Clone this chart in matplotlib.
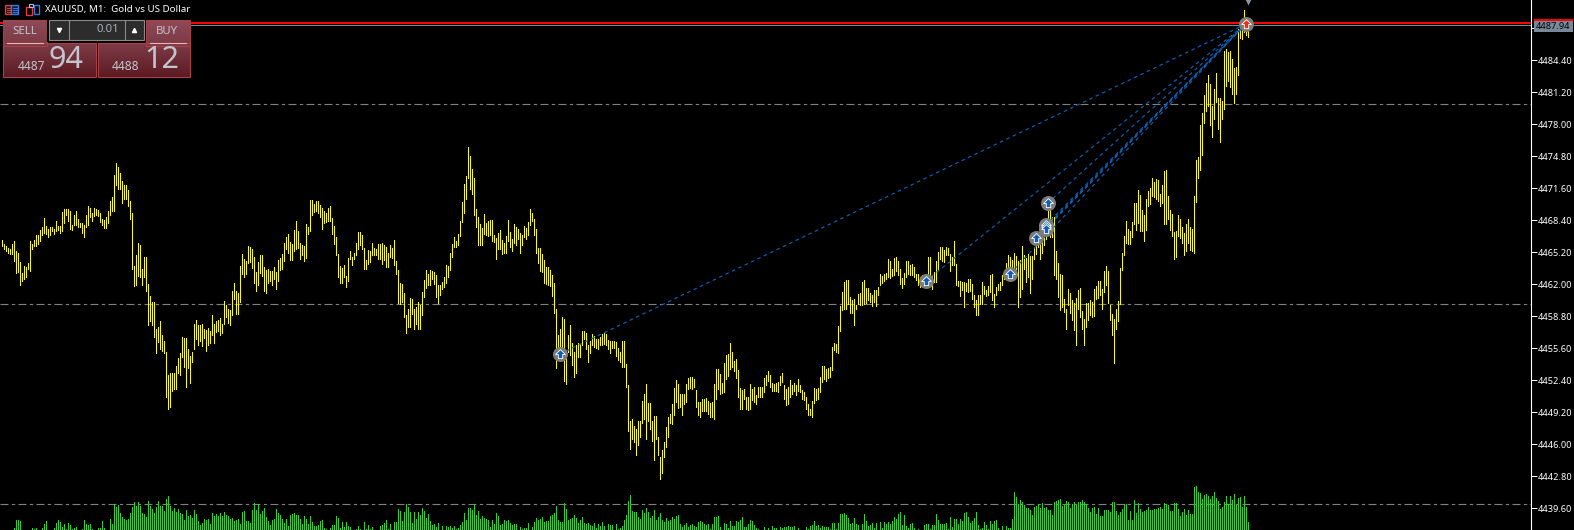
import numpy as np
import matplotlib
matplotlib.use('Agg')
import matplotlib.pyplot as plt
from matplotlib.path import Path
from matplotlib.patches import Rectangle

plt.rcParams['font.family'] = ['Noto Sans', 'DejaVu Sans']

# M1 bars
highs_a = [4466.4,4466.0,4465.8,4465.6,4465.5,4466.0,4466.3,4465.3,4465.1,4464.2,4463.1,4463.8,4463.7,4464.1,4466.3,4466.0,4466.4,4466.9,4466.9,4467.4,4467.7,4468.6,4467.8,4467.5,4467.7,4467.7,4467.5,4468.3,4467.8,4467.8,
    4469.2,4469.5,4469.5,4469.5,4469.3,4467.9,4468.9,4469.3,4468.5,4468.1,4468.1,4467.9,4468.9,4469.8,4469.6,4469.1,4469.6,4469.5,4469.4,4469.1,4468.5,4468.4,4468.7,4469.3,4470.3,4470.7,4472.9,4474.1,4473.7,4473.1,4472.3,4471.9,4471.9,4471.4,4470.3,4469.1,4463.8,4464.9,4466.1,4465.9,4463.5,4464.7,4464.7,4462.0,4460.8,4460.2,4460.2,4457.5,4457.7,4458.3,4456.9,4456.3,4455.2,4452.9,4453.1,4453.1,4453.1,4453.8,4454.6,4455.1,4456.7,4456.6,4456.6,4455.5,4454.8,4455.2,4458.0,4458.4,4457.9,4457.9,4458.0,4457.5,4457.4,4457.6,4457.3,4458.9,4458.0,4458.3,4458.4,4458.6,4458.0,4460.3,4459.9,4459.5,4459.4,4461.3,4462.1,4461.3,4461.1,4463.8,4465.0,4464.5,4464.3,4465.8,4465.7,4465.5,4464.7,4463.2,4464.2,4464.9,4464.9,4463.7,4463.4,4463.5,4463.3,4463.3,4463.7,4463.2,4464.4,4464.6,4465.0,4466.1,4466.7,4467.0,4466.2,4466.0,4467.4,4468.3,4467.3,4466.1,4465.9,4465.8,4468.0,4467.7,4470.4,4470.4,4470.0,4470.3,4470.3,4469.9,4469.6,4469.3,4469.1,4469.6,4469.8,4468.6,4467.8,4466.7,4465.0,4463.8,4463.6,4463.9,4462.8,4464.6,4465.3]
lows_a = [4465.8,4465.5,4465.3,4465.1,4465.0,4465.0,4464.3,4463.1,4463.2,4461.9,4462.3,4462.5,4462.7,4463.5,4463.3,4465.5,4465.8,4465.8,4466.0,4466.3,4466.9,4467.1,4467.0,4466.7,4466.9,4467.3,4467.0,4467.3,4467.4,4467.1,
    4467.3,4468.1,4468.9,4468.3,4467.5,4467.4,4467.9,4467.9,4467.7,4467.7,4467.1,4466.7,4467.7,4467.9,4468.7,4468.3,4468.8,4468.9,4468.8,4468.2,4467.9,4467.6,4467.6,4468.1,4468.9,4469.3,4469.3,4471.9,4471.5,4471.5,4470.1,4470.5,4470.5,4469.8,4468.5,4463.5,4461.8,4461.9,4462.8,4462.7,4461.9,4462.7,4461.3,4457.9,4458.3,4457.9,4456.7,4455.1,4456.2,4455.5,4455.3,4455.1,4450.7,4449.5,4449.7,4451.3,4451.5,4451.5,4453.1,4452.9,4454.7,4453.7,4451.7,4453.6,4452.1,4454.2,4455.5,4456.5,4455.9,4456.3,4455.8,4456.6,4455.3,4455.9,4456.1,4456.9,4456.1,4457.2,4457.3,4456.9,4457.1,4458.0,4458.7,4458.1,4457.9,4458.9,4460.5,4459.0,4459.0,4460.2,4463.0,4462.7,4463.0,4464.1,4464.2,4463.6,4462.1,4461.3,4461.9,4463.1,4462.8,4461.3,4461.1,4462.1,4462.3,4461.9,4462.5,4461.5,4462.3,4463.4,4463.5,4464.3,4465.5,4465.1,4464.4,4464.4,4465.3,4465.5,4465.6,4464.5,4464.9,4464.3,4464.6,4467.0,4467.3,4468.9,4469.2,4469.3,4469.1,4468.7,4467.5,4468.1,4468.2,4468.3,4468.3,4467.0,4466.0,4464.9,4462.7,4462.1,4462.1,4462.7,4461.7,4462.3,4464.5]

highs_b = [4464.7,4465.1,4466.1,4467.2,4467.2,4466.9,4465.6,4464.4,4465.4,4465.3,4466.1,4465.6,4465.5,4466.0,4466.0,4466.1,4465.9,4465.7,4465.1,4465.9,4465.6,4466.4,4464.3,4463.4,4462.1,4462.0,4461.1,4458.9,4459.5,4460.6,4460.5,4459.5,4459.7,4460.2,4459.9,4461.2,4462.4,4463.4,4463.0,4463.4,4463.3,4463.2,4462.9,4461.9,4461.9,4462.2,4462.7,4463.9,4463.8,4465.1,4466.0,4466.7,4466.3,4467.0,4468.3,4470.2,4472.0,4472.8,4475.7,4474.8,4473.5,4472.6,4469.5,4468.7,4468.0,4467.6,4469.0,4468.1,4468.3,4468.4,4468.4,4466.9,4466.6,4467.1,4467.4,4466.4,4466.1,4466.8,4468.4,4467.2,4466.5,4468.0,4467.7,4467.5,4467.1,4466.9,4467.8,4467.6,4468.2,4469.5,4469.1,4468.5,4467.5,4465.6,4465.6,4465.0,4464.4,4463.7,4463.7,4463.4,4462.9,4462.1,4459.5,4456.9,4457.5,4458.7,4458.5,4454.9,4456.9,4457.9,4456.1,4455.2,4455.9,4456.1,4456.0,4457.3,4457.3,4457.1,4455.9,4456.3,4457.0,4456.8,4456.5,4456.5,4456.7,4457.0,4457.1,4457.0,4456.4,4456.3,4456.3,4456.3,4456.2,4455.6,4455.2,4456.3,4456.3,4454.0,4451.9,4448.3,4448.5,4447.8,4447.5,4448.3,4448.3,4450.3,4451.0,4452.0,4450.1,4450.1,4448.3,4448.8,4448.8,4446.7,4444.7,4445.4,4446.2,4447.7,4448.7,4449.0,4450.0,4451.6,4452.4,4452.0,4451.0,4451.0,4451.0,4452.0,4452.6,4452.7,4452.7,4452.5,4451.4,4450.2,4450.2]
lows_b = [4463.9,4464.5,4464.9,4465.5,4465.9,4465.5,4463.5,4463.5,4464.0,4464.2,4464.9,4464.9,4464.9,4464.5,4464.5,4464.0,4464.4,4463.7,4463.7,4464.7,4464.6,4463.9,4463.0,4460.1,4460.0,4460.2,4458.7,4457.1,4457.7,4457.7,4459.0,4457.5,4458.0,4457.5,4457.5,4458.9,4460.7,4461.6,4461.9,4461.9,4462.5,4462.0,4460.7,4460.1,4460.9,4461.5,4461.7,4462.1,4462.7,4463.4,4464.7,4465.7,4465.7,4465.9,4466.8,4468.2,4469.1,4470.5,4472.6,4471.5,4471.0,4468.9,4467.7,4465.9,4465.9,4465.9,4467.0,4466.9,4466.8,4466.9,4466.3,4466.2,4464.5,4465.5,4465.5,4465.0,4465.1,4465.1,4466.3,4465.7,4465.3,4466.1,4465.9,4466.5,4465.1,4465.9,4466.7,4466.5,4466.9,4467.9,4468.3,4466.9,4465.1,4464.1,4463.3,4463.2,4462.1,4462.0,4461.9,4461.8,4460.8,4459.1,4453.6,4455.5,4455.5,4455.7,4452.3,4452.0,4455.2,4454.9,4453.9,4452.7,4453.1,4454.7,4454.7,4455.9,4456.5,4455.5,4454.2,4455.1,4455.9,4455.7,4455.6,4455.5,4455.9,4455.9,4456.0,4455.9,4455.5,4455.1,4455.6,4455.6,4454.8,4454.4,4454.2,4453.7,4453.7,4451.7,4447.3,4445.5,4446.5,4446.2,4444.9,4445.9,4446.7,4448.1,4448.5,4446.5,4448.3,4447.5,4446.3,4444.4,4446.5,4444.9,4442.5,4443.1,4444.7,4445.7,4446.7,4448.1,4448.0,4448.9,4450.2,4449.6,4449.7,4448.9,4450.0,4450.2,4451.5,4451.6,4451.5,4451.7,4449.7,4448.9,4448.7]

highs_c = [4450.5,4450.5,4450.6,4450.3,4450.1,4450.2,4452.0,4453.5,4453.5,4453.0,4452.1,4454.1,4454.9,4455.0,4456.1,4455.2,4454.3,4454.5,4453.4,4451.6,4451.4,4451.5,4450.7,4450.7,4452.0,4451.5,4451.7,4450.9,4451.7,4451.7,4451.7,4452.6,4452.9,4453.3,4452.9,4452.1,4452.0,4452.1,4452.2,4452.8,4453.1,4451.9,4451.5,4451.7,4452.4,4451.9,4452.1,4451.9,4452.5,4451.9,4451.4,4451.2,4450.7,4450.0,4449.5,4450.3,4451.6,4451.5,4451.6,4452.7,4453.8,4453.8,4453.5,4453.6,4453.7,4455.7,4456.1,4456.0,4457.8,4459.8,4461.2,4462.2,4462.4,4462.4,4460.7,4460.4,4460.5,4459.9,4461.0,4461.1,4462.2,4462.4,4461.6,4461.6,4461.1,4460.9,4461.4,4461.4,4461.7,4463.0,4462.8,4463.0,4463.1,4464.5,4464.3,4463.5,4464.6,4464.7,4464.3,4463.5,4462.6,4463.1,4464.3,4464.3,4463.9,4464.0,4463.7,4463.0,4463.0,4462.7,4462.9,4462.9,4463.0,4464.7,4464.7,4462.9,4463.2,4464.3,4465.2,4465.7,4465.7,4465.4,4465.7,4465.6,4465.0,4464.7,4466.3,4464.0,4462.3,4462.3,4462.2,4462.2,4462.1,4462.5,4462.5,4462.0,4460.9,4460.4,4460.9,4460.9,4462.2,4461.8,4461.4,4461.8,4462.9,4463.0,4461.0,4461.7,4462.0,4462.2,4462.9,4463.2,4464.1,4464.9,4464.7,4464.4,4465.1,4464.8,4464.3,4464.4,4465.8,4464.9,4464.6,4465.0,4464.8,4464.8,4465.7,4467.0,4466.5,4468.2,4467.9,4468.5,4467.9,4469.5,4469.4]
lows_c = [4449.3,4449.3,4449.3,4449.0,4448.7,4448.7,4448.5,4450.5,4451.5,4451.0,4451.1,4451.2,4452.5,4452.8,4453.5,4453.7,4453.3,4452.6,4450.7,4449.5,4449.5,4450.5,4449.5,4449.4,4449.5,4450.4,4450.2,4450.0,4450.7,4450.7,4450.7,4451.2,4451.9,4452.3,4451.7,4451.3,4451.3,4451.3,4451.2,4451.9,4452.2,4450.5,4449.9,4450.0,4450.7,4451.0,4451.3,4450.9,4451.3,4451.2,4450.5,4450.4,4449.5,4448.9,4448.9,4448.7,4450.1,4450.4,4450.5,4451.2,4452.2,4452.5,4452.3,4452.6,4452.7,4453.4,4455.4,4455.2,4455.1,4457.3,4459.4,4459.5,4459.5,4460.0,4459.1,4459.1,4457.9,4459.5,4460.0,4459.9,4459.9,4460.0,4460.1,4460.4,4460.2,4459.8,4460.2,4459.8,4460.9,4461.9,4462.1,4462.3,4462.5,4462.7,4462.6,4462.8,4462.9,4463.3,4462.9,4462.0,4461.6,4462.0,4462.7,4463.0,4462.9,4462.9,4462.7,4462.4,4461.9,4461.7,4461.9,4461.9,4462.0,4462.9,4462.5,4461.5,4462.2,4462.2,4463.4,4464.5,4464.3,4464.2,4464.9,4464.9,4463.3,4463.9,4463.9,4461.9,4461.8,4460.8,4461.4,4459.7,4461.3,4461.2,4461.3,4460.5,4459.7,4458.9,4458.9,4460.0,4460.0,4461.0,4460.8,4460.9,4461.2,4460.4,4459.7,4460.9,4461.4,4461.4,4461.9,4462.5,4462.7,4463.2,4462.9,4462.9,4462.9,4463.5,4459.7,4460.7,4461.5,4463.5,4462.2,4462.7,4461.1,4462.5,4464.5,4465.0,4465.7,4464.5,4465.1,4465.9,4466.5,4466.9,4466.7]

highs_d = [4468.7,4468.7,4465.3,4464.1,4463.0,4462.9,4460.5,4459.5,4461.5,4461.1,4460.4,4460.1,4460.6,4461.4,4461.6,4459.3,4458.5,4460.1,4460.1,4460.4,4460.2,4461.5,4461.8,4462.3,4462.3,4461.5,4463.3,4463.8,4463.3,4459.9,4459.0,4458.5,4459.5,4460.3,4463.6,4465.1,4466.8,4468.3,4467.5,4467.3,4468.2,4470.1,4470.1,4471.4,4470.9,4469.4,4468.9,4470.5,4471.3,4471.6,4472.6,4472.2,4472.5,4472.4,4471.0,4471.9,4473.3,4473.4,4470.8,4469.4,4469.0,4467.2,4467.3,4468.9,4468.5,4467.7,4467.1,4468.0,4468.5,4467.7,4467.5,4470.8,4474.4,4474.7,4477.9,4479.1,
    4480.9,4482.1,4482.9,4482.0,4479.8,4481.5,4483.1,4480.6,4480.6,4480.3,4485.3,4485.5,4485.2,4485.3,4484.5,4483.6,4483.7,4487.5,4488.0,4487.7,4489.4,4488.5,4488.2]
lows_d = [4466.7,4462.9,4462.5,4460.7,4459.4,4459.7,4459.2,4457.5,4459.9,4459.1,4458.4,4457.4,4455.9,4459.5,4458.7,4457.5,4455.9,4457.7,4458.4,4458.9,4458.7,4458.8,4460.5,4460.6,4460.9,4459.5,4461.2,4461.9,4460.1,4458.4,4456.9,4454.1,4457.5,4458.3,4460.0,4463.4,4464.9,4466.1,4466.0,4466.0,4466.7,4468.0,4467.4,4468.1,4467.3,4467.3,4466.3,4467.4,4469.8,4470.0,4470.8,4470.7,4470.5,4470.3,4469.8,4470.1,4468.0,4468.0,4468.5,4467.4,4466.8,4464.5,4464.7,4466.8,4466.6,4466.1,4464.9,4465.3,4466.1,4465.4,4465.3,4465.1,4470.2,4472.6,4473.4,4474.9,
    4478.1,4479.3,4479.8,4477.9,4476.7,4478.5,4480.2,4477.5,4476.2,4478.5,4479.5,4481.8,4482.3,4481.7,4481.0,4480.1,4481.0,4482.9,4486.6,4486.5,4487.2,4486.9,4486.7]

# tick volume
vol_a = [0,0,0,0,0,0,5,30,30,28,0,0,0,0,0,5,2,5,0,0,6,18,27,0,0,0,5,21,30,24,9,18,4,21,15,2,5,9,0,0,3,30,18,15,17,4,0,0,5,5,27,6,0,0,33,18,78,70,75,51,40,34,30,33,52,70,84,72,84,73,52,48,40,87,73,63,50,70,87,72,72,58,93,102,72,57,66,54,63,51,48,30,60,42,45,36,60,48,27,15,21,33,30,33,18,51,42,48,42,51,42,54,45,42,33,36,27,30,33,18,54,57,27,27,20,60,81,60,78,48,57,66,39,27,15,30,33,63,51,45,33,21,33,12,45,48,51,45,45,33,18,42,33,18,42,24,12,12,15,27,30,5,2,0,6,15,15,42,36,5,24,9,24,12,9,0,0,3,12,3,0,24,3,15,3,9,0,0,0,12,15,21,30,3,18,0,24,24,63,57,27,54,78,69,54,21,54,33,54,45,66,57,36,48,27,15,18,9,21,0,12,0,12,9,12,6,12,3,6,15,24,51,30,66,66,60,78,45,57,33,42,36,33,30,9,30,18,51,42,15,18,30,27,30,21,15,18,18,0,9,3,6,6,21,0,9,24,36,30,33,39,24,27,27,42,45,51,72,30,24,24,81,63,30,33,36,45,36,21,30,39,21,18,21,15,12,21,6,18,12,24,12,0,18,15,15,0,18,3,6,12,30,45,87,105,57,54,54,39,33]
vol_b = [60,51,66,54,36,42,60,30,39,51,30,24,36,27,30,39,33,42,45,18,9,15,21,9,15,18,12,9,24,27,24,18,15,18,3,18,39,39,42,9,0,21,18,6,27,12,12,27,24,30,39,9,9,18,30,27,15,6,3,0,0,9,0,6,0,12,6,6,0,9,6,9,9,12,9,9,12,0,6,0,0,0,9,3,12,15,27,12,15,6,12,9,9,9,3,21,21,3,21,48,48,51,45,36,18,21,36,18,15,0,18,48,27,12,15,21,6,21,0,24,6,24,18,24,18,27,39,33,48,54,15,45,12,6,18,21,6,0,3,0,0,15,18,18,3,15,15,48,30,18,18,18,21,3,39,9,33,33,18,33,27,51,54,39,21,27,36,54,15,3,6,24,15,3,27,18,27,30,6,0,12,0,12,6,6,33,114,99,78,90,84,75,66,66,60,45,69,72,78,66,81,66,69,60,60,45,84,87,90,93,72,78,87,84,66,78,84,75,84,84,90,84,78,66,54,66,69,48,66,42,42,60,60,60,54,84,84,57,45,54,63,78,78,30,57,30,90,51,81,63,54,57,60,69,60,60,63,63,66,69,63,81,78,75,57,57,81,81,63,42,54,63,45,60,48,48,129,132,114,111,93,105,108,102,93,102,114,96,87,63,69,84,102,78,102,90,108,75,96,99,69,102,69,24]

price_ask = 4488.12
price_bid = 4487.94
grid_levels = [4480, 4460, 4440]
tick_levels = [4439.60,4442.80,4446.00,4449.20,4452.40,4455.60,4458.80,4462.00,4465.20,4468.40,4471.60,4474.80,4478.00,4481.20,4484.40,4487.60]

# trades
entry_bars = [279, 462, 504, 517, 522, 522, 522, 523]
entry_prices = [4455.0, 4462.3, 4463.0, 4466.6, 4467.9, 4467.7, 4467.5, 4470.1]
exit_bar = 622
exit_price = 4488.0

highs = highs_a + highs_b + highs_c + highs_d
lows = lows_a + lows_b + lows_c + lows_d
volumes = vol_a + vol_b
bars = np.arange(len(highs))
vol_bars = np.arange(len(volumes))

W, H = 1574, 530
fig = plt.figure(figsize=(W / 100, H / 100), dpi=100, facecolor='black')
ax = fig.add_axes([0, 0, 1531 / W, 1], facecolor='black')
ax.set_xlim(-0.75, 764.75)
ax.set_ylim(4437.42, 4490.42)

for lvl in grid_levels:
    ax.axhline(lvl, color='#808080', lw=0.8, dashes=(7.2, 3, 3, 3), zorder=1)

ax.vlines(bars, lows, highs, color='#ffff00', lw=0.72, antialiased=False, zorder=3)

# volume sits on the same x, own y scale
ax_vol = ax.twinx()
ax_vol.set_ylim(0, H * 3)
ax_vol.axis('off')
ax_vol.vlines(vol_bars, 0, volumes, color='#32cd32', lw=0.72, antialiased=False)

ax.axhline(price_ask, color='#ff0000', lw=1.44, antialiased=False, zorder=5)
ax.axhline(price_bid, color='#778899', lw=0.72, antialiased=False, zorder=5)

for b, p in zip(entry_bars, entry_prices):
    ax.plot([b, exit_bar], [p, exit_price], color='#0a62b8', lw=0.85, dashes=(3, 3), zorder=4)

arrow = Path([(0, 1), (1, 0), (0.45, 0), (0.45, -0.85), (-0.45, -0.85), (-0.45, 0), (-1, 0), (0, 1)], closed=True)
ax_top = fig.add_axes(ax.get_position(), facecolor='none')
ax_top.set_xlim(ax.get_xlim())
ax_top.set_ylim(ax.get_ylim())
ax_top.axis('off')
ax_top.plot(entry_bars, entry_prices, 'o', ms=10.8, mfc='#7c7c7c', mec='none', zorder=6)
ax_top.plot(entry_bars, entry_prices, marker=arrow, ls='', ms=7, mfc='#0a62b8', mec='white', mew=0.6, zorder=7)
ax_top.plot([exit_bar], [exit_price], 'o', ms=10.8, mfc='#7c7c7c', mec='none', zorder=6)
ax_top.plot([exit_bar], [exit_price], marker=arrow, ls='', ms=7, mfc='#f03010', mec='white', mew=0.6, zorder=7)
ax_top.plot([exit_bar + 1], [4490.3], 'v', ms=6, mfc='#8a96a6', mec='none', clip_on=False)

# price scale on the right
ax.yaxis.tick_right()
ax.set_yticks(tick_levels)
ax.set_yticklabels([f"{t:.2f}" for t in tick_levels], fontsize=6.6, color='white')
ax.tick_params(axis='y', length=4.3, width=0.72, color='white', pad=0.6)
ax.set_xticks([])
for side in ['top', 'left', 'bottom']:
    ax.spines[side].set_visible(False)
ax.spines['right'].set_color('white')
ax.spines['right'].set_linewidth(0.8)

# overlay in screen pixels: title, one-click panel, bid tag
ui = fig.add_axes([0, 0, 1, 1], facecolor='none')
ui.axis('off')

def grad(x0, y0, x1, y1, top, bottom, edge='#a84048'):
    c = np.linspace(matplotlib.colors.to_rgb(top), matplotlib.colors.to_rgb(bottom), 32)[:, None, :]
    ui.imshow(c, extent=(x0, x1, y1, y0), aspect='auto', interpolation='bilinear', zorder=2)
    ui.add_patch(Rectangle((x0, y0), x1 - x0, y1 - y0, fc='none', ec=edge, lw=0.8, zorder=3))

grad(3, 20, 47, 46, '#8f4a58', '#7a3a44')
grad(146, 20, 190, 46, '#8f4a58', '#7a3a44')
grad(3, 43, 96, 77, '#7e3c48', '#5c1a22')
grad(98, 43, 190, 77, '#7e3c48', '#5c1a22')
ui.add_patch(Rectangle((47, 19), 99, 23, fc='black', ec='none', zorder=3))
ui.add_patch(Rectangle((49, 20), 95, 20, fc='#2c2c2c', ec='#8a8a8a', lw=0.8, zorder=4))
ui.plot([68.5, 68.5], [20, 40], color='#8a8a8a', lw=0.8, zorder=5)
ui.plot([124.5, 124.5], [20, 40], color='#8a8a8a', lw=0.8, zorder=5)
ui.plot([7, 43], [42.5, 42.5], color='#f0b0b0', lw=0.8, zorder=5)
ui.plot([150, 186], [42.5, 42.5], color='#f0b0b0', lw=0.8, zorder=5)
ui.plot([59], [29.5], 'v', ms=3, color='white', zorder=5)
ui.plot([133.5], [29.5], '^', ms=3, color='white', zorder=5)

txt = '#c4c4cc'
ui.text(24.5, 31, 'SELL', color=txt, fontsize=8.2, ha='center', va='center', zorder=6)
ui.text(167, 31, 'BUY', color=txt, fontsize=8.2, ha='center', va='center', zorder=6)
ui.text(119.5, 30, '0.01', color='#a8b0b8', fontsize=8.2, ha='right', va='center', zorder=6)
ui.text(32, 66.5, '4487', color=txt, fontsize=8.6, fontweight='bold', ha='center', va='center', zorder=6)
ui.text(126, 66.5, '4488', color=txt, fontsize=8.6, fontweight='bold', ha='center', va='center', zorder=6)
ui.text(66, 60, '94', color=txt, fontsize=22, ha='center', va='center', zorder=6)
ui.text(162, 60, '12', color=txt, fontsize=22, ha='center', va='center', zorder=6)

ui.text(45, 9.5, 'XAUUSD, M1:  Gold vs US Dollar', color='white', fontsize=7, ha='left', va='center', zorder=6)
# toolbar icons
ui.add_patch(Rectangle((5, 5), 6, 9, fc='#301010', ec='#e04040', lw=1, zorder=6))
ui.add_patch(Rectangle((11, 5), 7, 9, fc='#101c40', ec='#3a7ae0', lw=1, zorder=6))
for yy in [7.5, 9.5, 11.5]:
    ui.plot([6.5, 9.5], [yy, yy], color='#e04040', lw=0.7, zorder=7)
    ui.plot([12.5, 16.5], [yy, yy], color='#3a7ae0', lw=0.7, zorder=7)
ui.add_patch(Rectangle((26, 7), 6, 8, fc='none', ec='#e04040', lw=1, zorder=6))
ui.add_patch(Rectangle((29, 4), 4, 3, fc='none', ec='#c0c0c0', lw=0.8, zorder=6))
ui.add_patch(Rectangle((34, 5), 5, 9, fc='none', ec='#3a7ae0', lw=1, zorder=6))

ui.add_patch(Rectangle((1534, 19), 39, 2, fc='#ff0000', ec='none', zorder=6))
ui.add_patch(Rectangle((1534, 21), 39, 11, fc='#778899', ec='none', zorder=6))
ui.text(1553, 26.5, f"{price_bid:.2f}", color='black', fontsize=6.6, ha='center', va='center', zorder=7)
ui.set_xlim(0, W)
ui.set_ylim(H, 0)

fig.savefig('out.png', dpi=100, facecolor='black')
